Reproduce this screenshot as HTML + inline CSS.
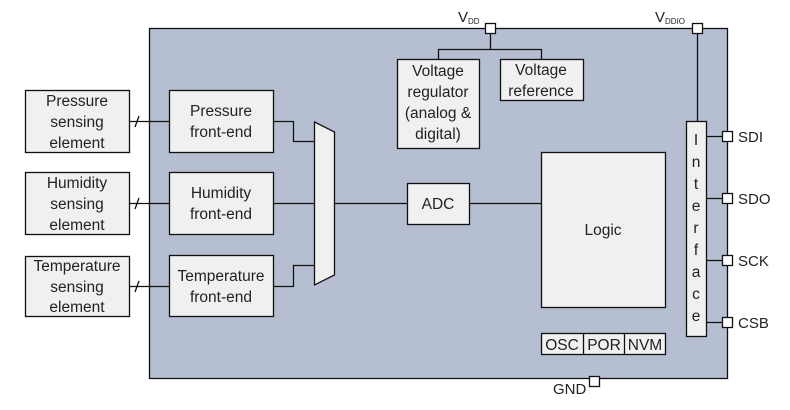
<!DOCTYPE html>
<html><head><style>body{margin:0;background:#fff}svg{display:block}text{font-family:"Liberation Sans",sans-serif;fill:#222}</style></head><body>
<svg width="790" height="410" viewBox="0 0 790 410">
<g stroke="#111" stroke-width="1.3" fill="none">
<rect x="149.5" y="28.5" width="578" height="350" fill="#b5bfd1"/>
<rect x="25.5" y="90.5" width="104" height="62" fill="#f0f0f0"/>
<rect x="25.5" y="172.5" width="104" height="62" fill="#f0f0f0"/>
<rect x="25.5" y="256.5" width="104" height="60" fill="#f0f0f0"/>
<path d="M129 121.5H169M129 203.5H169M129 286.5H169"/>
<path d="M135 127l4-11M135 209l4-11M135 292l4-11"/>
<rect x="169.5" y="90.5" width="104" height="62" fill="#f0f0f0"/>
<rect x="169.5" y="172.5" width="104" height="62" fill="#f0f0f0"/>
<rect x="169.5" y="255.5" width="104" height="61" fill="#f0f0f0"/>
<path d="M273 121.5H293.5V141.5H315M273 203.5H315M273 286.5H293.5V265.5H315"/>
<polygon points="314.5,122 334.5,132 334.5,275 314.5,285" fill="#f0f0f0"/>
<path d="M334 203.5H407M469 203.5H541"/>
<rect x="407.5" y="183.5" width="62" height="41" fill="#f0f0f0"/>
<rect x="541.5" y="152.5" width="124" height="155" fill="#f0f0f0"/>
<rect x="541.5" y="333.5" width="124" height="21" fill="#f0f0f0"/>
<path d="M583.5 333v21M624.5 333v21"/>
<path d="M490.5 33V49.5M438.5 59V49.5H541.5V59"/>
<rect x="397.5" y="59.5" width="82" height="89" fill="#f0f0f0"/>
<rect x="500.5" y="59.5" width="83" height="41" fill="#f0f0f0"/>
<rect x="485.5" y="23.5" width="10" height="10" fill="#fff"/>
<path d="M697.5 33V121"/>
<rect x="692.5" y="23.5" width="10" height="10" fill="#fff"/>
<rect x="686.5" y="121.5" width="20" height="215" fill="#f0f0f0"/>
<path d="M706 136.5H722M706 198.5H722M706 260.5H722M706 322.5H722"/>
<rect x="722.5" y="131.5" width="10" height="10" fill="#fff"/>
<rect x="722.5" y="193.5" width="10" height="10" fill="#fff"/>
<rect x="722.5" y="255.5" width="10" height="10" fill="#fff"/>
<rect x="722.5" y="317.5" width="10" height="10" fill="#fff"/>
<rect x="589.5" y="376.5" width="10" height="10" fill="#fff"/>
</g>
<g font-size="15.5" text-anchor="middle">
<text x="77" y="106">Pressure</text><text x="77" y="127">sensing</text><text x="77" y="148">element</text>
<text x="77" y="188">Humidity</text><text x="77" y="209">sensing</text><text x="77" y="230">element</text>
<text x="77" y="271">Temperature</text><text x="77" y="292">sensing</text><text x="77" y="312">element</text>
<text x="221" y="116">Pressure</text><text x="221" y="137">front-end</text>
<text x="221" y="198">Humidity</text><text x="221" y="219">front-end</text>
<text x="221" y="281">Temperature</text><text x="221" y="302">front-end</text>
<text x="438" y="209">ADC</text>
<text x="603" y="235">Logic</text>
<text x="438" y="76">Voltage</text><text x="438" y="97">regulator</text><text x="438" y="118">(analog &amp;</text><text x="438" y="139">digital)</text>
<text x="541" y="75">Voltage</text><text x="541" y="96">reference</text>
<text x="562" y="350">OSC</text><text x="604" y="350">POR</text><text x="645" y="350">NVM</text>
<text x="696" y="145">I</text><text x="696" y="167">n</text><text x="696" y="189">t</text><text x="696" y="211">e</text><text x="696" y="233">r</text><text x="696" y="255">f</text><text x="696" y="277">a</text><text x="696" y="299">c</text><text x="696" y="321">e</text>
</g>
<g font-size="15">
<text x="738" y="142">SDI</text><text x="738" y="204">SDO</text><text x="738" y="266">SCK</text><text x="738" y="328">CSB</text>
<text x="553" y="394">GND</text>
<text x="458" y="22">V<tspan font-size="8" dy="2">DD</tspan></text>
<text x="655" y="22">V<tspan font-size="8" dy="2">DDIO</tspan></text>
</g>
</svg>
</body></html>
